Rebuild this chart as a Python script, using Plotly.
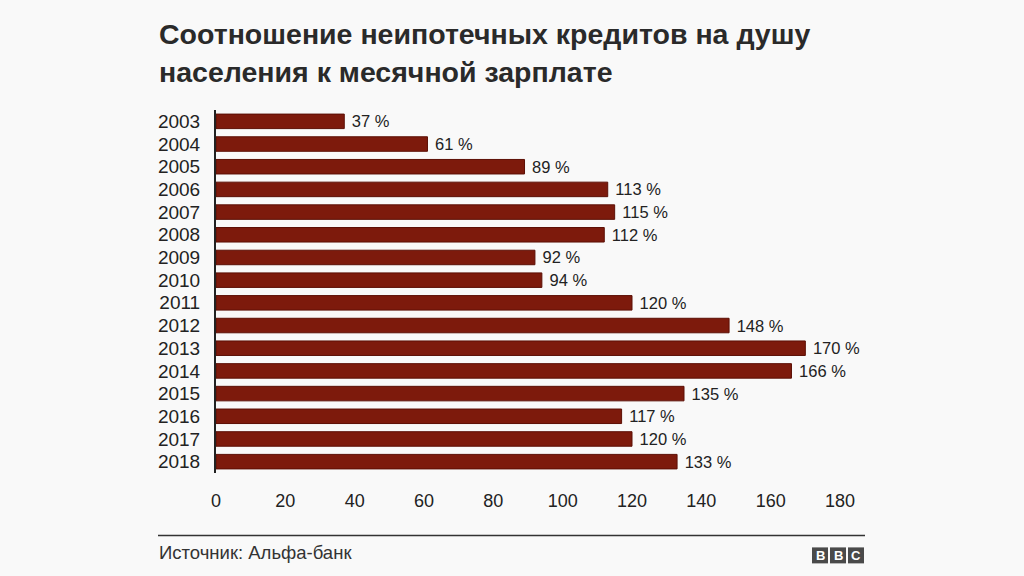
import plotly.graph_objects as go

years = ["2003", "2004", "2005", "2006", "2007", "2008", "2009", "2010",
         "2011", "2012", "2013", "2014", "2015", "2016", "2017", "2018"]
values = [37, 61, 89, 113, 115, 112, 92, 94, 120, 148, 170, 166, 135, 117, 120, 133]
x_ticks = [0, 20, 40, 60, 80, 100, 120, 140, 160, 180]

title_line1 = "Соотношение неипотечных кредитов на душу"
title_line2 = "населения к месячной зарплате"
source_text = "Источник: Альфа-банк"

W, H = 1024, 576
X0, X1 = 216, 840
Y0, Y1 = 110, 473.5
BG = "#f9f9f9"
BAR = "#7d1a0c"
TXT = "#222222"
FONT = "Liberation Sans, Arial, sans-serif"


def px(x):
    return (x - X0) / (X1 - X0)


def py(y):
    return (Y1 - y) / (Y1 - Y0)


fig = go.Figure(go.Bar(
    x=values,
    y=years,
    orientation="h",
    marker=dict(color=BAR, line=dict(color="#5c0f05", width=1)),
    text=[f" {v} %" for v in values],
    textposition="outside",
    constraintext="none",
    textfont=dict(size=16.5, color=TXT, family=FONT),
    cliponaxis=False,
    hoverinfo="skip",
))

fig.update_layout(
    width=W, height=H,
    margin=dict(l=X0, r=W - X1, t=Y0, b=H - Y1),
    paper_bgcolor=BG,
    plot_bgcolor=BG,
    bargap=0.36,
    showlegend=False,
    font=dict(family=FONT, color=TXT),
)

fig.update_xaxes(
    range=[0, 180],
    tickvals=x_ticks,
    showgrid=False,
    zeroline=False,
    showline=False,
    ticks="outside",
    ticklen=11,
    tickcolor=BG,
    tickfont=dict(size=18, color=TXT, family=FONT),
)

fig.update_yaxes(
    categoryorder="array",
    categoryarray=years,
    tickmode="array",
    tickvals=years,
    ticktext=years,
    autorange="reversed",
    showgrid=False,
    zeroline=False,
    showline=True,
    linecolor="#222222",
    linewidth=2,
    ticks="outside",
    ticklen=10,
    tickcolor=BG,
    tickfont=dict(size=19, color=TXT, family=FONT),
)

annotations = [
    dict(text=f"<b>{title_line1}</b>", x=px(157), y=py(34), xref="paper", yref="paper",
         xanchor="left", yanchor="middle", showarrow=False,
         font=dict(size=28.5, color="#2a2a2a", family=FONT)),
    dict(text=f"<b>{title_line2}</b>", x=px(157), y=py(72), xref="paper", yref="paper",
         xanchor="left", yanchor="middle", showarrow=False,
         font=dict(size=28.5, color="#2a2a2a", family=FONT)),
    dict(text=source_text, x=px(157), y=py(553), xref="paper", yref="paper",
         xanchor="left", yanchor="middle", showarrow=False,
         font=dict(size=18.5, color="#333333", family=FONT)),
]

shapes = [
    dict(type="line", xref="paper", yref="paper",
         x0=px(158), x1=px(865), y0=py(536), y1=py(536),
         line=dict(color="#333333", width=1.5)),
]

for i, letter in enumerate(["B", "B", "C"]):
    left = 812 + i * 18
    shapes.append(dict(type="rect", xref="paper", yref="paper",
                       x0=px(left), x1=px(left + 16), y0=py(564), y1=py(548),
                       fillcolor="#4a4a4a", line=dict(width=0)))
    annotations.append(dict(text=f"<b>{letter}</b>", x=px(left + 8), y=py(556),
                            xref="paper", yref="paper", xanchor="center", yanchor="middle",
                            showarrow=False, font=dict(size=13, color="white", family=FONT)))

fig.update_layout(annotations=annotations, shapes=shapes)

fig.write_html("out.html", config={"displayModeBar": False},
               post_script="document.body.style.margin='0';")
